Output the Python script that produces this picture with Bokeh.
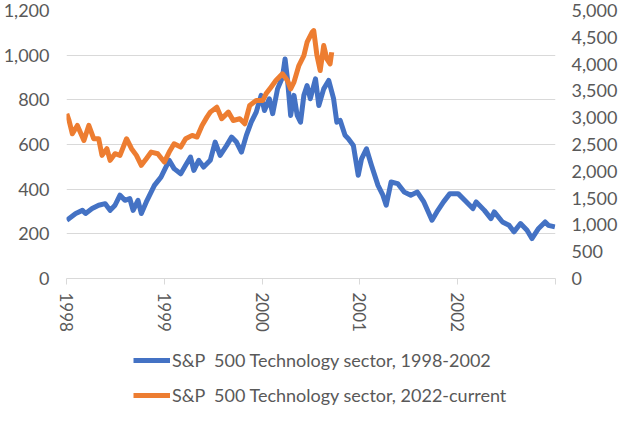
import math
from bokeh.plotting import figure
from bokeh.layouts import column
from bokeh.models import Range1d, LinearAxis, FixedTicker, NumeralTickFormatter, Legend, LegendItem
from bokeh.embed import file_html
from bokeh.resources import INLINE

# Blue series: S&P 500 Technology sector 1998-2002 (left axis), x in fractional years
blue_x = [1998.003, 1998.094, 1998.163, 1998.195, 1998.262, 1998.329, 1998.396, 1998.446,
          1998.496, 1998.547, 1998.597, 1998.647, 1998.681, 1998.731, 1998.765, 1998.816,
          1998.899, 1998.966, 1999.050, 1999.100, 1999.168, 1999.218, 1999.268, 1999.302,
          1999.352, 1999.402, 1999.470, 1999.520, 1999.571, 1999.638, 1999.688, 1999.738,
          1999.789, 1999.839, 1999.889, 1999.940, 1999.990, 2000.024, 2000.074, 2000.108,
          2000.158, 2000.208, 2000.235, 2000.259, 2000.292, 2000.326, 2000.359, 2000.393,
          2000.427, 2000.460, 2000.493, 2000.546, 2000.580, 2000.630, 2000.681, 2000.731,
          2000.764, 2000.798, 2000.848, 2000.882, 2000.933, 2000.983, 2001.017, 2001.067,
          2001.118, 2001.185, 2001.235, 2001.269, 2001.319, 2001.386, 2001.453, 2001.520,
          2001.587, 2001.654, 2001.737, 2001.787, 2001.855, 2001.920, 2002.004, 2002.072,
          2002.155, 2002.189, 2002.273, 2002.340, 2002.374, 2002.458, 2002.525, 2002.575,
          2002.642, 2002.709, 2002.759, 2002.827, 2002.894, 2002.927, 2002.994]
blue_y = [261, 291, 305, 291, 313, 328, 335, 305,
          328, 373, 350, 358, 305, 350, 291, 343,
          417, 454, 529, 492, 469, 507, 544, 484,
          529, 499, 529, 611, 551, 596, 633, 611,
          566, 641, 700, 745, 820, 752, 805, 738,
          849, 901, 983, 894, 730, 820, 730, 700,
          820, 864, 805, 894, 775, 849, 887, 805,
          700, 708, 641, 626, 596, 462, 536, 581,
          507, 417, 373, 328, 432, 425, 387, 373,
          387, 343, 261, 298, 343, 380, 380, 350,
          313, 343, 305, 268, 298, 253, 238, 209,
          246, 216, 179, 224, 253, 238, 231]

# Orange series: S&P 500 Technology sector 2022-current (right axis)
orange_x = [1998.003, 1998.026, 1998.060, 1998.111, 1998.178, 1998.228, 1998.278, 1998.329,
            1998.363, 1998.413, 1998.446, 1998.496, 1998.547, 1998.614, 1998.665, 1998.715,
            1998.765, 1998.816, 1998.866, 1998.933, 1999.000, 1999.050, 1999.100, 1999.168,
            1999.218, 1999.285, 1999.335, 1999.386, 1999.436, 1999.470, 1999.537, 1999.587,
            1999.655, 1999.705, 1999.772, 1999.823, 1999.873, 1999.940, 2000.007, 2000.040,
            2000.091, 2000.141, 2000.208, 2000.259, 2000.292, 2000.326, 2000.376, 2000.427,
            2000.460, 2000.511, 2000.528, 2000.561, 2000.594, 2000.630, 2000.662, 2000.695,
            2000.712]
orange_y = [3074, 2948, 2700, 2856, 2576, 2856, 2608, 2608,
            2297, 2421, 2204, 2328, 2297, 2608, 2421, 2297,
            2111, 2235, 2359, 2328, 2173, 2359, 2514, 2452,
            2608, 2670, 2639, 2856, 3011, 3104, 3197, 2980,
            3104, 2948, 2980, 2887, 3228, 3321, 3321, 3445,
            3570, 3694, 3818, 3694, 3539, 3663, 3973, 4159,
            4408, 4594, 4625, 4159, 3880, 4346, 4097, 4004,
            4221]

x_ticks = [1998, 1999, 2000, 2001, 2002, 2003]
x_labels = ["1998", "1999", "2000", "2001", "2002", ""]
left_ticks = [0, 200, 400, 600, 800, 1000, 1200]
right_ticks = [0, 500, 1000, 1500, 2000, 2500, 3000, 3500, 4000, 4500, 5000]
series_names = ["S&P  500 Technology sector, 1998-2002", "S&P  500 Technology sector, 2022-current"]
series_colors = ["#4472C4", "#ED7D31"]

FONT = "Lato"
TXT = "#595959"
GRID = "#D9D9D9"
LW = 5
W = 620

p = figure(width=W, height=336, output_backend="svg", toolbar_location=None,
           x_range=Range1d(1998, 2003), y_range=Range1d(0, 1200),
           min_border_left=63, min_border_right=62, min_border_top=10, min_border_bottom=58)
p.extra_y_ranges = {"right": Range1d(0, 5000)}
p.outline_line_color = None
p.background_fill_color = "white"

xa = p.xaxis[0]
xa.ticker = FixedTicker(ticks=x_ticks)
xa.major_label_overrides = {t: l for t, l in zip(x_ticks, x_labels)}
xa.major_label_orientation = -math.pi / 2
xa.major_tick_in = 0
xa.major_tick_out = 6
xa.minor_tick_line_color = None
xa.axis_line_color = GRID
xa.major_tick_line_color = GRID
xa.major_label_standoff = 8
xa.major_label_text_font = FONT
xa.major_label_text_font_size = "17px"
xa.major_label_text_color = TXT

ya = p.yaxis[0]
ya.ticker = FixedTicker(ticks=left_ticks)
ya.formatter = NumeralTickFormatter(format="0,0")
ya.axis_line_color = None
ya.major_tick_line_color = None
ya.major_tick_out = 0
ya.major_tick_in = 0
ya.minor_tick_line_color = None
ya.major_label_standoff = 17
ya.major_label_text_font = FONT
ya.major_label_text_font_size = "18px"
ya.major_label_text_color = TXT

yr = LinearAxis(y_range_name="right", ticker=FixedTicker(ticks=right_ticks),
                formatter=NumeralTickFormatter(format="0,0"))
yr.axis_line_color = None
yr.major_tick_line_color = None
yr.major_tick_out = 0
yr.major_tick_in = 0
yr.minor_tick_line_color = None
yr.major_label_standoff = 16
yr.major_label_text_font = FONT
yr.major_label_text_font_size = "18px"
yr.major_label_text_color = TXT
p.add_layout(yr, "right")

p.xgrid.visible = False
p.ygrid.ticker = FixedTicker(ticks=left_ticks)
p.ygrid.grid_line_color = GRID
p.ygrid.grid_line_width = 1

p.line(blue_x, blue_y, line_color=series_colors[0], line_width=LW, line_join="round")
p.line(orange_x, orange_y, line_color=series_colors[1], line_width=LW, line_join="round",
       y_range_name="right")

# Legend strip below the chart (its lines lie outside its visible range; only the key shows)
lg = figure(width=W, height=70, output_backend="svg", toolbar_location=None,
            x_range=Range1d(0, 1), y_range=Range1d(0, 1),
            x_axis_location=None, y_axis_location=None, min_border=0)
lg.outline_line_color = None
lg.xgrid.visible = False
lg.ygrid.visible = False
k1 = lg.line(blue_x, blue_y, line_color=series_colors[0], line_width=LW)
k2 = lg.line(orange_x, orange_y, line_color=series_colors[1], line_width=LW)
legend = Legend(items=[LegendItem(label=series_names[0], renderers=[k1]),
                       LegendItem(label=series_names[1], renderers=[k2])],
                location=(67, 0), orientation="vertical", padding=0, margin=0,
                spacing=13, glyph_width=37, glyph_height=22, label_height=22,
                label_standoff=2, label_text_font=FONT, label_text_font_size="18px",
                label_text_color=TXT, border_line_color=None, background_fill_alpha=0)
lg.add_layout(legend)

open("out.html", "w").write(file_html(column(p, lg, spacing=0), INLINE))
